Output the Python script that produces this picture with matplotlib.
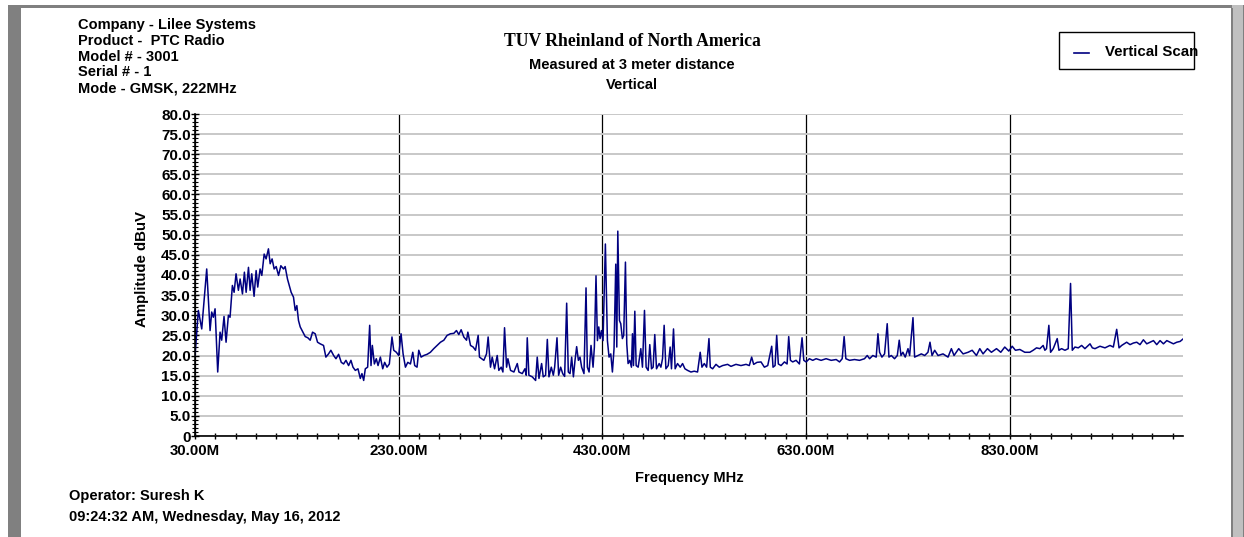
import matplotlib
matplotlib.use('Agg')
import matplotlib.pyplot as plt
from matplotlib.patches import Rectangle
from matplotlib.lines import Line2D
from matplotlib.ticker import FixedLocator, MultipleLocator

plt.rcParams['font.family'] = ['Liberation Sans', 'DejaVu Sans']
plt.rcParams['font.weight'] = 'bold'

header_lines = ['Company - Lilee Systems', 'Product -  PTC Radio', 'Model # - 3001',
                'Serial # - 1', 'Mode - GMSK, 222MHz']
title = 'TUV Rheinland of North America'
subtitles = ['Measured at 3 meter distance', 'Vertical']
series_name = 'Vertical Scan'
operator = 'Operator: Suresh K'
timestamp = '09:24:32 AM, Wednesday, May 16, 2012'
x_title = 'Frequency MHz'
y_title = 'Amplitude dBuV'

# trace, 30 - 310 MHz
freq_low = [30.0, 33.3, 36.6, 41.5, 44.8, 46.4, 48.0, 49.7, 52.3, 54.6,
            56.2, 58.5, 60.5, 62.8, 64.4, 66.7, 68.4, 70.3, 72.6, 74.3,
            76.6, 78.5, 80.2, 82.5, 84.1, 85.7, 88.0, 90.0, 91.6, 93.9,
            95.6, 97.9, 99.8, 102.1, 103.8, 105.7, 107.7, 109.7, 112.0, 114.3,
            116.9, 118.5, 120.8, 124.4, 126.7, 128.4, 130.0, 131.6, 133.3, 135.9,
            138.2, 140.8, 143.1, 145.4, 148.0, 150.3, 152.9, 156.2, 158.5, 161.1,
            163.4, 166.1, 168.4, 171.0, 173.6, 175.9, 178.2, 180.8, 183.1, 185.1,
            187.4, 190.0, 192.3, 193.9, 195.6, 197.2, 199.5, 201.5, 202.8, 204.1,
            206.1, 208.0, 209.7, 212.0, 214.3, 216.2, 218.5, 220.8, 223.4, 225.1,
            227.7, 230.0, 232.3, 234.3, 236.6, 238.9, 241.5, 243.8, 245.7, 248.0,
            249.7, 252.0, 254.6, 257.9, 261.1, 264.4, 267.7, 271.0, 274.3, 277.5,
            280.8, 284.1, 286.7, 289.0, 291.3, 293.9, 296.6, 297.9, 300.5, 303.1,
            305.4, 308.0, 309.3]
amp_low = [20.0, 31.2, 26.6, 41.5, 26.2, 30.8, 29.5, 31.6, 15.9, 25.8,
           23.8, 29.7, 23.3, 30.0, 29.5, 37.4, 35.7, 40.3, 36.2, 39.0,
           35.3, 40.7, 35.7, 41.9, 36.2, 40.3, 34.7, 41.1, 37.0, 41.5,
           39.9, 45.2, 44.0, 46.5, 42.8, 44.0, 41.5, 42.1, 39.9, 42.3,
           41.5, 42.1, 39.0, 35.7, 34.5, 31.2, 32.4, 28.7, 27.1, 25.8,
           24.7, 24.4, 23.8, 25.8, 25.4, 23.3, 22.9, 22.5, 19.6, 20.4,
           21.3, 20.0, 19.2, 20.3, 18.3, 17.9, 18.8, 17.5, 18.8, 17.1,
           16.3, 16.7, 14.3, 15.5, 13.8, 16.7, 17.1, 27.5, 17.5, 22.5,
           17.9, 19.2, 17.5, 19.6, 16.7, 18.3, 17.1, 17.9, 24.6, 21.3,
           20.8, 20.0, 25.4, 20.4, 17.1, 18.3, 17.9, 20.8, 17.5, 17.1,
           21.3, 19.6, 20.0, 20.3, 20.8, 21.7, 22.5, 23.3, 23.8, 25.0,
           25.4, 25.5, 26.2, 25.2, 26.4, 24.6, 23.8, 25.8, 22.5, 22.1,
           21.3, 25.0, 19.6]

# 310 - 585 MHz
freq_mid = [313.6, 316.2, 317.8, 320.1, 321.8, 324.1, 326.7, 328.3, 330.6, 332.3,
            333.9, 335.9, 337.2, 339.8, 343.1, 346.4, 348.0, 351.3, 353.9, 355.2,
            356.2, 357.8, 361.1, 364.4, 366.0, 367.7, 370.3, 371.9, 374.2, 375.9,
            377.5, 379.8, 381.8, 383.1, 385.4, 387.0, 389.0, 391.0, 392.9, 394.9,
            396.5, 398.2, 399.8, 401.5, 403.1, 404.7, 406.4, 408.0, 409.6, 411.9,
            413.9, 415.2, 416.9, 418.8, 420.8, 422.1, 423.7, 425.1, 426.4, 427.7,
            429.0, 430.6, 432.9, 434.9, 436.5, 438.2, 439.8, 441.4, 443.1, 444.1,
            445.1, 446.7, 448.0, 449.6, 450.9, 452.6, 453.9, 455.2, 456.9, 458.5,
            459.5, 460.5, 461.8, 463.1, 465.1, 467.7, 469.3, 471.3, 472.9, 474.9,
            476.5, 478.2, 479.8, 481.4, 483.1, 485.7, 487.4, 489.0, 490.6, 492.3,
            494.6, 496.5, 497.8, 499.8, 501.4, 503.7, 506.4, 508.7, 511.0, 513.6,
            516.9, 520.1, 523.4, 526.0, 527.7, 530.0, 532.3, 534.6, 535.9, 538.2,
            541.5, 544.7, 548.0, 552.9, 556.2, 561.1, 566.0, 571.0, 574.2, 576.5,
            578.5, 581.8]
amp_mid = [18.8, 20.4, 24.6, 17.1, 19.6, 16.7, 20.0, 16.3, 17.1, 15.9,
           26.9, 17.1, 19.2, 16.3, 15.9, 18.0, 15.9, 15.5, 16.7, 15.1,
           24.4, 15.1, 14.7, 13.8, 19.6, 14.3, 18.0, 14.7, 15.1, 24.0,
           14.7, 17.1, 15.1, 17.1, 24.4, 15.1, 17.1, 15.5, 14.8, 33.0,
           15.9, 15.5, 19.6, 14.7, 18.8, 22.2, 18.8, 19.6, 17.1, 15.5,
           36.8, 17.1, 15.9, 22.5, 17.1, 22.1, 39.8, 23.7, 27.1, 24.2,
           26.2, 23.7, 47.7, 23.7, 19.6, 20.4, 15.9, 21.7, 42.7, 22.1,
           50.9, 28.7, 27.9, 24.2, 25.0, 43.2, 22.9, 18.0, 18.8, 17.1,
           25.4, 17.5, 31.0, 17.5, 17.1, 21.7, 17.1, 31.2, 17.1, 16.3,
           22.7, 16.7, 17.1, 25.2, 16.7, 18.0, 17.1, 19.2, 27.5, 16.7,
           17.5, 22.1, 16.7, 26.6, 16.7, 18.0, 17.1, 18.0, 16.7, 16.3,
           15.9, 16.1, 15.9, 20.8, 17.1, 18.0, 17.1, 24.2, 17.1, 16.7,
           17.8, 17.1, 17.5, 17.8, 17.3, 17.8, 17.5, 17.8, 17.5, 19.6,
           17.8, 18.3]

# 585 - 1000 MHz
freq_high = [585.7, 589.0, 592.3, 596.2, 597.5, 599.5, 601.1, 602.7, 605.4, 608.7,
             611.3, 612.9, 614.6, 616.8, 620.1, 623.4, 626.0, 627.7, 630.0, 633.2,
             636.5, 639.8, 644.7, 649.6, 654.6, 659.5, 662.8, 665.4, 667.3, 669.0,
             672.6, 677.5, 682.4, 687.3, 690.0, 692.3, 695.5, 698.8, 700.5, 702.1,
             704.4, 707.0, 709.6, 711.3, 713.6, 716.8, 719.5, 721.4, 723.1, 725.0,
             727.3, 730.0, 731.6, 734.9, 736.5, 739.8, 743.1, 746.4, 749.6, 751.6,
             753.6, 756.2, 759.5, 764.4, 769.3, 772.6, 775.2, 779.8, 784.1, 789.0,
             793.0, 797.2, 800.5, 803.7, 808.0, 811.9, 816.9, 821.1, 825.0, 829.0,
             832.3, 835.5, 839.8, 844.7, 849.6, 852.9, 856.2, 859.5, 862.7, 864.4,
             866.0, 868.3, 870.0, 872.6, 876.5, 878.2, 880.8, 884.1, 887.3, 889.6,
             891.3, 893.9, 897.2, 900.5, 903.7, 908.7, 911.0, 913.6, 918.5, 923.4,
             928.3, 931.6, 934.9, 937.2, 939.8, 944.7, 948.0, 951.3, 954.6, 957.8,
             961.1, 964.4, 967.7, 971.0, 974.2, 977.5, 980.8, 984.1, 987.4, 990.6,
             993.9, 997.2, 1000.0]
amp_high = [18.4, 17.1, 17.5, 22.3, 17.1, 17.5, 25.0, 17.9, 17.5, 18.4,
            17.9, 24.7, 18.8, 18.4, 18.8, 17.9, 24.4, 18.8, 18.4, 19.2,
            18.8, 19.2, 18.8, 19.2, 18.8, 19.0, 18.4, 19.2, 24.7, 19.2,
            18.8, 19.0, 18.8, 19.2, 20.0, 19.2, 20.0, 19.6, 25.4, 20.8,
            19.6, 20.4, 27.9, 19.6, 20.0, 19.2, 20.0, 23.8, 20.0, 20.8,
            19.6, 21.7, 20.0, 29.4, 19.6, 20.0, 20.4, 20.0, 20.8, 23.3,
            20.0, 21.3, 20.0, 20.4, 19.6, 21.7, 20.0, 21.7, 20.4, 20.8,
            21.3, 20.0, 21.7, 20.4, 21.7, 20.8, 21.7, 20.8, 22.1, 21.1,
            22.3, 21.3, 21.5, 20.8, 20.8, 21.3, 21.9, 21.7, 22.5, 21.3,
            21.7, 27.5, 20.8, 21.7, 24.2, 21.3, 21.7, 21.3, 21.7, 37.9,
            21.3, 22.1, 21.9, 22.5, 21.7, 22.9, 21.9, 21.7, 22.3, 21.9,
            22.5, 22.1, 26.5, 21.9, 22.5, 23.3, 22.7, 23.1, 23.3, 22.7,
            23.9, 22.9, 23.3, 23.7, 22.7, 23.7, 22.9, 23.7, 23.3, 22.9,
            23.3, 23.5, 24.1]

x_ticks = [30, 230, 430, 630, 830]
x_tick_labels = ['30.00M', '230.00M', '430.00M', '630.00M', '830.00M']
y_ticks = list(range(0, 81, 5))
y_tick_labels = ['0', '5.0', '10.0', '15.0', '20.0', '25.0', '30.0', '35.0', '40.0',
                 '45.0', '50.0', '55.0', '60.0', '65.0', '70.0', '75.0', '80.0']

assert len(freq_low) == len(amp_low)
assert len(freq_mid) == len(amp_mid)
assert len(freq_high) == len(amp_high)
freq = freq_low + freq_mid + freq_high
amp = amp_low + amp_mid + amp_high

W, H = 1244, 537
fig = plt.figure(figsize=(W / 100, H / 100), dpi=100)
fig.patch.set_facecolor('white')


def fx(x):
    return x / W


def fy(y):
    return 1 - y / H


def box(x0, y0, x1, y1, color):
    fig.add_artist(Rectangle((fx(x0), fy(y1)), (x1 - x0) / W, (y1 - y0) / H,
                             transform=fig.transFigure, facecolor=color, lw=0))


# window frame
box(8, 5, 21, 537, '#808080')
box(8, 5, 1240, 8, '#808080')
box(1232, 5, 1243, 537, '#c0c0c0')
box(1231, 8, 1233, 537, '#808080')
box(1243, 5, 1244, 537, '#808080')

ax = fig.add_axes([fx(195), fy(436), 988 / W, 322 / H])
ax.plot(freq, amp, color='#000080', lw=1.1, label=series_name)
ax.set_xlim(30, 1000)
ax.set_ylim(0, 80)

ax.set_xticks(x_ticks)
ax.set_xticklabels(x_tick_labels)
ax.set_yticks(y_ticks)
ax.set_yticklabels(y_tick_labels)
ax.xaxis.set_minor_locator(FixedLocator(list(range(30, 1001, 20))))
ax.yaxis.set_minor_locator(MultipleLocator(1))

ax.set_axisbelow(True)
ax.grid(axis='y', which='major', color='#c8c8c8', lw=1.4)
ax.grid(axis='x', which='major', color='black', lw=0.9)

for s in ['top', 'right']:
    ax.spines[s].set_visible(False)
for s in ['left', 'bottom']:
    ax.spines[s].set_linewidth(1.2)

ax.tick_params(axis='y', which='major', direction='inout', length=6, width=1, pad=0,
               labelsize=11)
ax.tick_params(axis='y', which='minor', direction='inout', length=5, width=0.8)
ax.tick_params(axis='x', which='major', direction='inout', length=5, width=1, pad=3,
               labelsize=10.8)
ax.tick_params(axis='x', which='minor', direction='inout', length=5, width=1)

ax.set_xlabel(x_title, fontsize=10.5, fontweight='bold')
ax.xaxis.label.set_va('center')
ax.xaxis.set_label_coords(0.5, (436 - 478) / 322)
ax.set_ylabel(y_title, fontsize=10.8, fontweight='bold')
ax.yaxis.label.set_va('center')
ax.yaxis.set_label_coords((142 - 195) / 988, (436 - 269) / 322)

# header block
for i, line in enumerate(header_lines):
    fig.text(fx(78), fy(25 + 15.8 * i), line, ha='left', va='center', fontsize=10.5)

fig.text(fx(632), fy(41), title, ha='center', va='center', fontsize=12.7,
         family='Liberation Serif', fontweight='bold')
fig.text(fx(632), fy(65), subtitles[0], ha='center', va='center', fontsize=10.5)
fig.text(fx(632), fy(85), subtitles[1], ha='center', va='center', fontsize=10.5)

# legend box, text runs past the right edge as in the original
fig.add_artist(Rectangle((fx(1059), fy(69)), 135 / W, 37 / H, transform=fig.transFigure,
                         facecolor='white', edgecolor='black', lw=1))
fig.add_artist(Line2D([fx(1074), fx(1089)], [fy(52.5), fy(52.5)], color='#000080', lw=1.2,
                      transform=fig.transFigure))
fig.text(fx(1105), fy(52.5), series_name, ha='left', va='center', fontsize=10.8)

fig.text(fx(69), fy(496), operator, ha='left', va='center', fontsize=10.5)
fig.text(fx(69), fy(517), timestamp, ha='left', va='center', fontsize=10.5)

fig.savefig('out.png', dpi=100)
